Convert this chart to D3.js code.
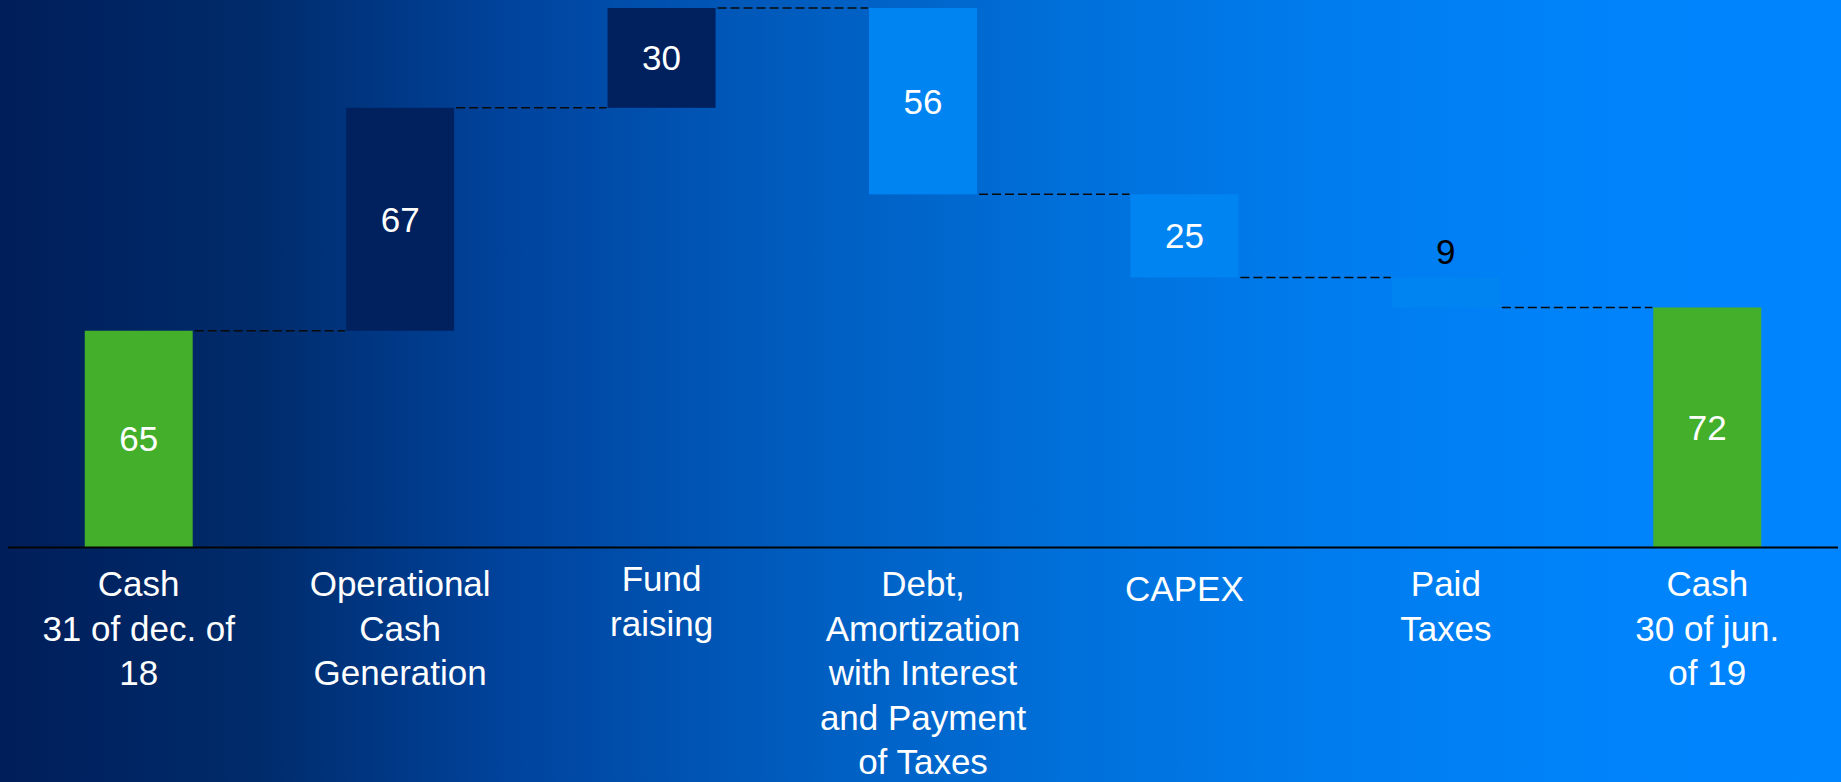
<!DOCTYPE html>
<html>
<head>
<meta charset="utf-8">
<script src="https://cdn.jsdelivr.net/npm/d3@7"></script>
<style>
  html, body { margin: 0; padding: 0; overflow: hidden; }
  svg { display: block; font-family: "Liberation Sans", Arial, sans-serif; }
</style>
</head>
<body>
<svg id="chart" width="1841" height="782"></svg>
<script>
// waterfall data: first and last bars are totals, the rest are movements
const categories = ["cash18", "opcash", "fund", "debt", "capex", "taxes", "cash19"];
const labelLines = [
  ["Cash", "31 of dec. of", "18"],
  ["Operational", "Cash", "Generation"],
  ["Fund", "raising"],
  ["Debt,", "Amortization", "with Interest", "and Payment", "of Taxes"],
  ["CAPEX"],
  ["Paid", "Taxes"],
  ["Cash", "30 of jun.", "of 19"]
];
const values = [65, 67, 30, -56, -25, -9, 72];
const kinds = ["total", "up", "up", "down", "down", "down", "total"];

const COLORS = { total: "#43AF2B", up: "#00205E", down: "#0084F2" };

const W = 1841, H = 782;
const baseY = 547;
// small per-label vertical nudges seen in the original layout
const labelNudge = { fund: -5, capex: 5 };

const svg = d3.select("#chart");

// background gradient
const defs = svg.append("defs");
const grad = defs.append("linearGradient")
  .attr("id", "bg")
  .attr("x1", "0%").attr("x2", "100%")
  .attr("y1", "0%").attr("y2", "0%");
[
  ["0%", "#001E5A"],
  ["14%", "#002B6B"],
  ["28%", "#00449E"],
  ["43%", "#005CBE"],
  ["58%", "#0070DA"],
  ["72%", "#007CEE"],
  ["87%", "#0083FA"],
  ["100%", "#0085FF"]
].forEach(([o, c]) => grad.append("stop").attr("offset", o).attr("stop-color", c));

svg.append("rect")
  .attr("width", W).attr("height", H)
  .attr("fill", "url(#bg)");

// running totals
let running = 0;
const bars = values.map((v, i) => {
  let start, end;
  if (kinds[i] === "total") {
    start = 0; end = v; running = v;
  } else {
    start = running; end = running + v; running = end;
  }
  return { key: categories[i], value: v, kind: kinds[i], start, end, lines: labelLines[i] };
});

const maxTotal = d3.max(bars, (d) => Math.max(d.start, d.end));

const x = d3.scaleBand()
  .domain(categories)
  .range([8, 1838])
  .paddingInner(0.587)
  .paddingOuter(0.2935);

const y = d3.scaleLinear()
  .domain([0, maxTotal])
  .range([baseY, 8]);

// connectors
const conn = bars.slice(0, -1).map((d, i) => ({ from: d, to: bars[i + 1] }));
svg.append("g")
  .selectAll("line")
  .data(conn)
  .join("line")
  .attr("x1", (d) => x(d.from.key) + x.bandwidth() + 2)
  .attr("x2", (d) => x(d.to.key) - 1)
  .attr("y1", (d) => y(d.from.end))
  .attr("y2", (d) => y(d.from.end))
  .attr("stroke", "#0a0a0a")
  .attr("stroke-width", 1.6)
  .attr("stroke-dasharray", "9,4");

// bars
svg.append("g")
  .selectAll("rect")
  .data(bars)
  .join("rect")
  .attr("x", (d) => x(d.key))
  .attr("width", x.bandwidth())
  .attr("y", (d) => y(Math.max(d.start, d.end)))
  .attr("height", (d) => Math.abs(y(d.start) - y(d.end)))
  .attr("fill", (d) => COLORS[d.kind]);

// axis baseline
svg.append("line")
  .attr("x1", 8).attr("x2", 1838)
  .attr("y1", baseY + 0.5).attr("y2", baseY + 0.5)
  .attr("stroke", "#050505")
  .attr("stroke-width", 1.8);

// value labels: inside when the bar is tall enough, otherwise above it
svg.append("g")
  .selectAll("text")
  .data(bars)
  .join("text")
  .attr("text-anchor", "middle")
  .attr("font-size", 35)
  .attr("x", (d) => x(d.key) + x.bandwidth() / 2)
  .attr("y", (d) => {
    const top = y(Math.max(d.start, d.end));
    const bot = y(Math.min(d.start, d.end));
    if (bot - top < 45) return top - 14;
    return (top + bot) / 2 + 12.5;
  })
  .attr("fill", (d) => {
    const h = Math.abs(y(d.start) - y(d.end));
    return h < 45 ? "#000000" : "#ffffff";
  })
  .text((d) => Math.abs(d.value));

// category labels
const lab = svg.append("g")
  .selectAll("text")
  .data(bars)
  .join("text")
  .attr("text-anchor", "middle")
  .attr("font-size", 35)
  .attr("fill", "#ffffff")
  .attr("x", (d) => x(d.key) + x.bandwidth() / 2)
  .attr("y", (d) => 596 + (labelNudge[d.key] || 0));

lab.selectAll("tspan")
  .data((d) => d.lines.map((t) => ({ t, cx: x(d.key) + x.bandwidth() / 2 })))
  .join("tspan")
  .attr("x", (d) => d.cx)
  .attr("dy", (d, i) => (i === 0 ? 0 : 44.5))
  .text((d) => d.t);
</script>
</body>
</html>
